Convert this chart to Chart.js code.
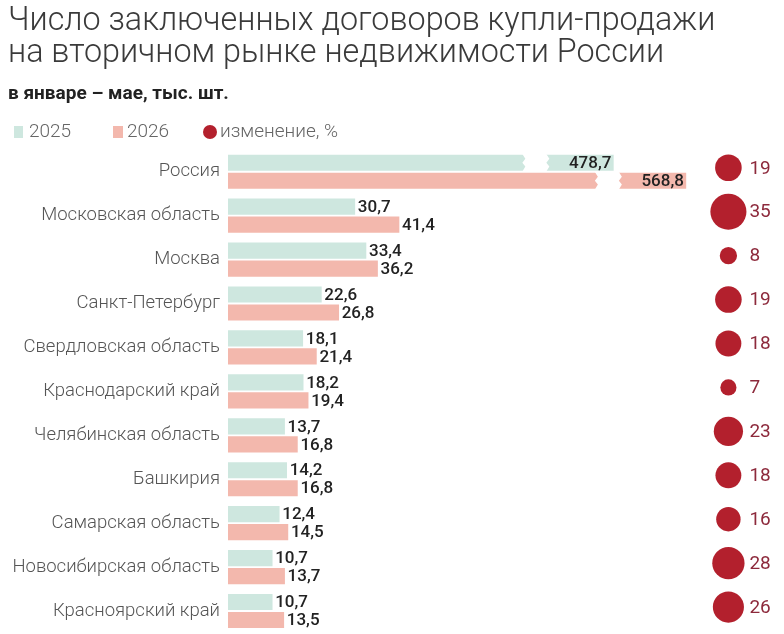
<!DOCTYPE html>
<html lang="ru">
<head>
  <meta charset="UTF-8" />
  <title>Вторичный рынок</title>
  <script src="https://cdn.jsdelivr.net/npm/chart.js"></script>
  <style>
    body { margin: 0; background: #fff; }
    .wrap { width: 784px; height: 634px; position: relative; }
  </style>
</head>
<body>
  <div class="wrap"><canvas id="deals"></canvas></div>

  <script>
    const regions = [
      'Россия', 'Московская область', 'Москва', 'Санкт-Петербург',
      'Свердловская область', 'Краснодарский край', 'Челябинская область',
      'Башкирия', 'Самарская область', 'Новосибирская область', 'Красноярский край'
    ];
    const deals2025 = [478.7, 30.7, 33.4, 22.6, 18.1, 18.2, 13.7, 14.2, 12.4, 10.7, 10.7];
    const deals2026 = [568.8, 41.4, 36.2, 26.8, 21.4, 19.4, 16.8, 16.8, 14.5, 13.7, 13.5];
    const changePct = [19, 35, 8, 19, 18, 7, 23, 18, 16, 28, 26];

    const TEAL = '#cee7df';
    const PINK = '#f3b8ad';
    const RED = '#b3202d';
    const FONT = 'Roboto, "Open Sans", sans-serif';

    const fmt = v => v.toFixed(1).replace('.', ',');
    // Russia is shown on its own (compressed) axis, the rest on the main one
    const onlyRussia = arr => arr.map((v, i) => i === 0 ? v : null);
    const noRussia = arr => arr.map((v, i) => i === 0 ? null : v);

    function drawBreak(ctx, xEnd, top, bottom) {
      const x1 = xEnd - 91, x2 = xEnd - 67;
      const steps = 4, h = (bottom - top) / steps;
      ctx.save();
      ctx.fillStyle = '#fff';
      ctx.beginPath();
      ctx.moveTo(x1, top - 1);
      for (let k = 1; k <= steps; k++) ctx.lineTo(x1 + (k % 2 ? 3 : 0), top + k * h + (k === steps ? 1 : 0));
      ctx.lineTo(x2, bottom + 1);
      for (let k = steps - 1; k >= 0; k--) ctx.lineTo(x2 + (k % 2 ? 3 : 0), top + k * h - (k === 0 ? 1 : 0));
      ctx.closePath();
      ctx.fill();
      ctx.restore();
    }

    const barLabels = {
      id: 'barLabels',
      afterDatasetsDraw(chart) {
        const ctx = chart.ctx;
        ctx.save();
        ctx.textBaseline = 'middle';
        ctx.font = '500 17px ' + FONT;
        ctx.fillStyle = '#222';
        chart.data.datasets.forEach((ds, di) => {
          const meta = chart.getDatasetMeta(di);
          if (meta.type !== 'bar') return;
          meta.data.forEach((bar, i) => {
            const v = ds.data[i];
            if (v === null) return;
            if (ds.xAxisID === 'xr') {
              drawBreak(ctx, bar.x, bar.y - bar.height / 2, bar.y + bar.height / 2);
              ctx.textAlign = 'right';
              ctx.fillText(fmt(v), bar.x - 2, bar.y + 1);
            } else {
              ctx.textAlign = 'left';
              ctx.fillText(fmt(v), bar.x + 3, bar.y + 1);
            }
          });
        });
        // change labels next to the circles
        const bub = chart.getDatasetMeta(4);
        ctx.font = '400 19px ' + FONT;
        ctx.fillStyle = '#8d2a3c';
        ctx.textAlign = 'left';
        bub.data.forEach((pt, i) => {
          ctx.fillText(String(changePct[i]), pt.x + 21, pt.y + 1);
        });
        ctx.restore();
      }
    };

    const headLegend = {
      id: 'headLegend',
      afterDraw(chart) {
        const ctx = chart.ctx;
        ctx.save();
        ctx.textBaseline = 'middle';
        ctx.font = '300 19px ' + FONT;
        ctx.fillStyle = TEAL;
        ctx.fillRect(14, 126, 9, 12);
        ctx.fillStyle = PINK;
        ctx.fillRect(113, 126, 10, 12);
        ctx.fillStyle = RED;
        ctx.beginPath();
        ctx.arc(210, 132, 7, 0, Math.PI * 2);
        ctx.fill();
        ctx.fillStyle = '#666';
        ctx.textAlign = 'left';
        ctx.fillText('2025', 29, 132);
        ctx.fillText('2026', 127, 132);
        ctx.fillText('изменение, %', 220, 132);
        ctx.restore();
      }
    };

    new Chart(document.getElementById('deals'), {
      type: 'bar',
      data: {
        labels: regions,
        datasets: [
          { label: '2025', data: noRussia(deals2025), backgroundColor: TEAL, xAxisID: 'x', yAxisID: 'y', stack: 'a' },
          { label: '2026', data: noRussia(deals2026), backgroundColor: PINK, xAxisID: 'x', yAxisID: 'y', stack: 'b' },
          { label: '2025', data: onlyRussia(deals2025), backgroundColor: TEAL, xAxisID: 'xr', yAxisID: 'y', stack: 'a' },
          { label: '2026', data: onlyRussia(deals2026), backgroundColor: PINK, xAxisID: 'xr', yAxisID: 'y', stack: 'b' },
          {
            type: 'bubble',
            label: 'изменение, %',
            // circles sit a little above the middle of each bar pair
            parsing: false,
            data: changePct.map((v, i) => ({ x: 0.9, y: i - 0.09, v: v })),
            xAxisID: 'xb',
            yAxisID: 'y',
            backgroundColor: RED,
            borderWidth: 0,
            radius: ctx => 3.05 * Math.sqrt(ctx.raw.v),
            clip: false
          }
        ]
      },
      options: {
        indexAxis: 'y',
        responsive: true,
        maintainAspectRatio: false,
        animation: false,
        barThickness: 18,
        maxBarThickness: 15.5,
        layout: { autoPadding: false, padding: { left: 8, right: 0, bottom: 1, top: 0 } },
        scales: {
          y: {
            type: 'category',
            position: 'left',
            stacked: true,
            offset: true,
            grid: { display: false, drawTicks: false },
            border: { display: false },
            ticks: { color: '#555', padding: 8, font: { family: FONT, size: 18.5, weight: '300' } },
            afterFit(scale) {
              scale.width = 220;
              scale.paddingTop = 0;
              scale.paddingBottom = 0;
            }
          },
          x: { type: 'linear', min: 0, max: 134.6, offset: false, display: false, stacked: false },
          xr: { type: 'linear', axis: 'x', min: 0, max: 690.7, offset: false, display: false, stacked: false },
          xb: { type: 'linear', axis: 'x', min: 0, max: 1, offset: false, display: false }
        },
        plugins: {
          legend: { display: false },
          tooltip: { enabled: false },
          title: {
            display: true,
            align: 'start',
            text: ['Число заключенных договоров купли-продажи', 'на вторичном рынке недвижимости России'],
            color: '#3a3a3a',
            font: { family: FONT, size: 32.3, weight: '300', lineHeight: 0.99 },
            padding: { top: 6, bottom: 4 }
          },
          subtitle: {
            display: true,
            align: 'start',
            text: 'в январе – мае, тыс. шт.',
            color: '#222',
            font: { family: FONT, size: 19, weight: 'bold', lineHeight: 1.2 },
            padding: { top: 9, bottom: 44 }
          }
        }
      },
      plugins: [barLabels, headLegend]
    });
  </script>
</body>
</html>
